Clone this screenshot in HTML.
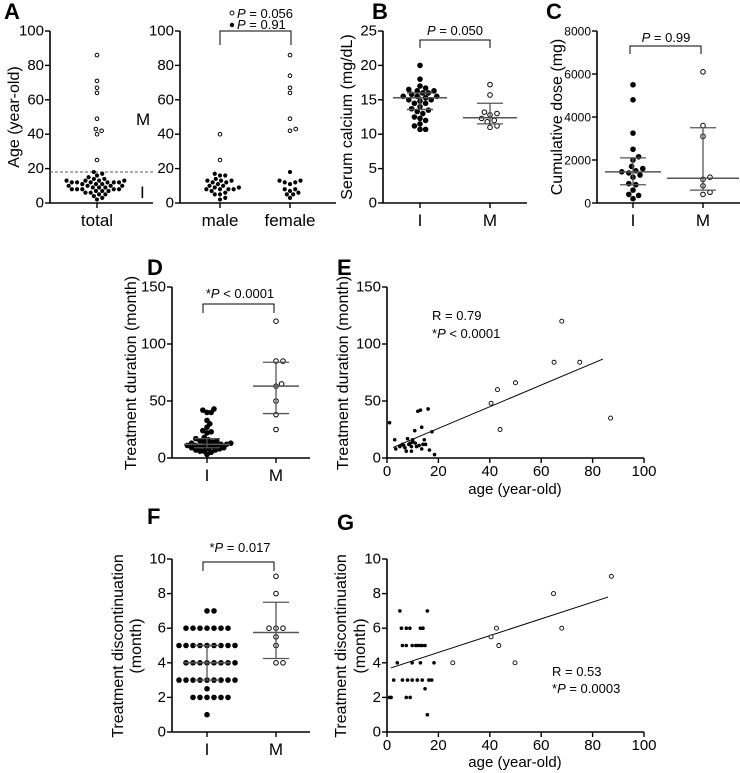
<!DOCTYPE html>
<html><head><meta charset="utf-8">
<style>
body{margin:0;background:#fff;}
svg{display:block;font-family:"Liberation Sans",Arial,sans-serif;}
</style></head>
<body>
<svg id="fig" width="740" height="773" viewBox="0 0 740 773" xmlns="http://www.w3.org/2000/svg"></svg>
<script>
// ---------- DATA ----------
const aTotalI=[18,17,16,15,14,14,13,13,13,13,12,12,12,12,12,12,11,11,11,10,10,10,10,9,9,9,8,8,8,8,8,7,7,7,6,6,5,5,4,3,2];
const aTotalM=[86,71,67,64,49,43,42,40,25];
const aMaleI=[17,16,16,14,13,13,13,12,12,11,10,10,9,9,8,8,8,8,7,6,5,5,3,2];
const aMaleM=[40,25];
const aFemaleI=[18,13,13,12,12,11,8,8,7,6,5,5,3];
const aFemaleM=[86,74,67,64,49,43,42];
const bI=[20,18,17,16.7,16.5,16.3,16.3,16,16,15.8,15.5,15.5,15.5,15.3,15,15,14.8,14.5,14.5,14,13.7,13.5,13.3,13,12.5,12.3,12,11.5,11.2,10.7,10.7];
const bM=[17.2,15.7,13.2,13,12.8,12.3,12,11.8,11.2,11];
const bStatsI=[13.6,15.3,16.0];
const bStatsM=[11.5,12.4,14.5];
const cI=[5500,4800,3250,2500,2150,2000,1700,1600,1500,1450,1400,1300,1200,900,850,600,400,350,200];
const cM=[6100,3600,3100,1200,1100,800,500,400];
const cStatsI=[850,1450,2100];
const cStatsM=[600,1150,3500];
const dI=[43,42,40,40,33,30,27,24,23,22,18,17,16,15,15,14,14,13,13,12,12,12,11,11,11,10,10,10,9,9,8,8,7,7,6,6,5,3];
const dM=[120,85,85,65,63,50,38,25];
const dStatsI=[9,12,17];
const dStatsM=[39,63,84];
const eAgeI=[1,3,3.4,5,6.5,7.5,8,9,9.5,10,10.8,11.5,12,13,13.5,13.5,14.5,15,16,16.5,17.5,18.5,8.5,9.5,11,12.5,6,7,10,14];
const eDurI=[31,16,8,10,11,6,17,13,6,16,24,10,41,42,27,8,16,12,43,7,23,3,12,10,13,11,12,9,14,12];
const eAgeM=[40.5,43,44,50,65,68,75,87];
const eDurM=[48,60,25,66,84,120,84,35];
const eFit=[0.95,7];
const fI=[7,7,6,6,6,6,6,6,6,5,5,5,5,5,5,5,5,5,4,4,4,4,4,4,4,4,3,3,3,3,3,3,3,3,3,2.5,2,2,2,2,2,2,1];
const fM=[9,8,6,6,6,5.5,5,4,4];
const fStatsI=[3,4,5];
const fStatsM=[4.25,5.75,7.5];
const gAgeI=[1,1.6,7.5,9,15.7,14.8,2.6,6,8,9.8,11.8,13.7,16.3,17.4,4,9.8,13,18.3,6,7.5,9.8,11.2,12,13,13.7,14.8,5.6,7.5,8.9,13,14,5,15.7];
const gDisI=[2,2,2,2,1,2.5,3,3,3,3,3,3,3,3,4,4,4,4,5,5,5,5,5,5,5,5,6,6,6,6,6,7,7];
const gAgeM=[25.6,40.5,42.6,43.5,49.8,64.8,68,87.3];
const gDisM=[4,5.5,6,5,4,8,6,9];
const gFit=[0.0485,3.63];

// ---------- HELPERS ----------
const NS="http://www.w3.org/2000/svg";
const svg=document.getElementById('fig');
function el(tag,attrs,parent,text){const e=document.createElementNS(NS,tag);for(const k in attrs)e.setAttribute(k,attrs[k]);if(text!==undefined)e.textContent=text;(parent||svg).appendChild(e);return e;}
function grp(name){const g=el('g',{});


return g;}
function lin(min,max,p0,p1){return v=>p0+(v-min)/(max-min)*(p1-p0);}
function yAxis(g,x,yb,yt,min,max,ticks,fs){
  const ys=lin(min,max,yb,yt);
  const a=el('line',{x1:x,y1:yb,x2:x,y2:yt,stroke:'#000','stroke-width':1.6},g);
  
  
  ticks.forEach(t=>{
    el('line',{x1:x-5,x2:x,y1:ys(t),y2:ys(t),stroke:'#000','stroke-width':1.4},g);
    const tx=el('text',{x:x-6,y:ys(t)+4.5,'text-anchor':'end','font-size':fs||14},g,t);
    
    
  });
  return ys;
}
function xAxisLine(g,x0,x1,y){const a=el('line',{x1:x0,y1:y,x2:x1,y2:y,stroke:'#000','stroke-width':1.6},g);

}
function cat(g,x,y,label,fs){el('line',{x1:x,x2:x,y1:y,y2:y+5,stroke:'#000','stroke-width':1.4},g);
const t=el('text',{x:x,y:y+23,'text-anchor':'middle','font-size':fs||17},g,label);

}
function ytitle(g,x,y,lines,fs,sp){lines.forEach((l,i)=>{const t=el('text',{x:0,y:0,'text-anchor':'middle','font-size':fs||16,transform:`translate(${x+i*(sp||18)},${y}) rotate(-90)`},g,l);

});}
function letter(x,y,s){const t=el('text',{x:x,y:y,'font-size':22,'font-weight':'bold'},svg,s);

}
function swarm(g,vals,ys,cx,r,open,name,fac){
  const f=fac||2;
  const placed=[];const sorted=vals.slice().sort((a,b)=>a-b);
  sorted.forEach(v=>{const y=ys(v);let x=cx;
    for(let k=0;k<200;k++){const off=(k%2?1:-1)*Math.ceil(k/2)*r*0.5;x=cx+off;
      if(placed.every(p=>Math.hypot(p[0]-x,p[1]-y)>=f*r+0.4))break;}
    placed.push([x,y]);
    const c=el('circle',{cx:x,cy:y,r:open?r-0.5:r,fill:open?'#fff':'#000',stroke:'#000','stroke-width':open?1:0},g);
    
    
  });
}
function stats(g,s,ys,cx,hw){
  el('line',{x1:cx,x2:cx,y1:ys(s[0]),y2:ys(s[2]),stroke:'#555','stroke-width':1.3},g);
  el('line',{x1:cx-hw,x2:cx+hw,y1:ys(s[1]),y2:ys(s[1]),stroke:'#555','stroke-width':1.5},g);
  el('line',{x1:cx-13,x2:cx+13,y1:ys(s[0]),y2:ys(s[0]),stroke:'#555','stroke-width':1.3},g);
  el('line',{x1:cx-13,x2:cx+13,y1:ys(s[2]),y2:ys(s[2]),stroke:'#555','stroke-width':1.3},g);
}
function bracket(g,x0,x1,y,drop){el('path',{d:`M${x0},${y+drop}V${y}H${x1}V${y+drop}`,fill:'none',stroke:'#000','stroke-width':1},g);}
function ptext(g,x,y,pre,post,anchor,fs){const t=el('text',{x:x,y:y,'font-size':fs||14,'text-anchor':anchor||'middle'},g);


if(pre)el('tspan',{},t,pre);el('tspan',{'font-style':'italic'},t,'P');el('tspan',{},t,'\u00a0'+post);return t;}
function scatter(g,xs,ysArr,xsc,ysc,r,open,name){xs.forEach((a,i)=>{const c=el('circle',{cx:xsc(a),cy:ysc(ysArr[i]),r:r,fill:open?'#fff':'#000',stroke:'#000','stroke-width':open?0.9:0},g);

});}

// ---------- PANEL A ----------
letter(4,19,'A');
{const g=grp('panel-a-total');
 const ys=yAxis(g,50,203,31,0,100,[0,20,40,60,80,100],15);
 xAxisLine(g,50,153,203);cat(g,97,203,'total');
 el('line',{x1:50,x2:153,y1:ys(18),y2:ys(18),stroke:'#555','stroke-width':1,'stroke-dasharray':'3,2'},g);
 swarm(g,aTotalI,ys,97,2.1,false,'dot-total-i');
 swarm(g,aTotalM,ys,97,2.3,true,'dot-total-m');
 el('text',{x:136,y:125,'font-size':17},g,'M');
 el('text',{x:140,y:198,'font-size':17},g,'I');
 ytitle(g,19,117,['Age (year-old)']);
}
{const g=grp('panel-a-sex');
 const ys=yAxis(g,180,203,31,0,100,[0,20,40,60,80,100],15);
 xAxisLine(g,180,336,203);cat(g,220,203,'male');cat(g,290,203,'female');
 swarm(g,aMaleI,ys,220,2.1,false,'dot-male-i');swarm(g,aMaleM,ys,220,2.3,true,'dot-male-m');
 swarm(g,aFemaleI,ys,290,2.1,false,'dot-female-i');swarm(g,aFemaleM,ys,290,2.3,true,'dot-female-m');
 bracket(g,220,291,31,14);
 el('circle',{cx:232,cy:13,r:2,fill:'#fff',stroke:'#000','stroke-width':0.9},g);
 ptext(g,237,18,'','= 0.056','start',13);
 el('circle',{cx:232,cy:25,r:2.2,fill:'#000'},g);
 ptext(g,237,29,'','= 0.91','start',13);
}
// ---------- PANEL B ----------
letter(372,19,'B');
{const g=grp('panel-b');
 const ys=yAxis(g,383,203,31,0,25,[0,5,10,15,20,25],15);
 xAxisLine(g,383,527,203);cat(g,420,203,'I');cat(g,490,203,'M');
 swarm(g,bI,ys,420,2.8,false,'dot-b-i',1.8);swarm(g,bM,ys,490,2.8,true,'dot-b-m');
 stats(g,bStatsI,ys,420,27);stats(g,bStatsM,ys,490,27);
 bracket(g,420,490,40,8);ptext(g,455,35,'','= 0.050','middle',13);
 ytitle(g,352,117,['Serum calcium (mg/dL)']);
}
// ---------- PANEL C ----------
letter(546,19,'C');
{const g=grp('panel-c');
 const ys=yAxis(g,597,203,31,0,8000,[0,2000,4000,6000,8000],12);
 xAxisLine(g,597,740,203);cat(g,633,203,'I');cat(g,703,203,'M');
 swarm(g,cI,ys,633,2.8,false,'dot-c-i');swarm(g,cM,ys,703,2.8,true,'dot-c-m');
 stats(g,cStatsI,ys,633,28);stats(g,cStatsM,ys,703,36);
 bracket(g,630,701,46,8);ptext(g,666,42,'','= 0.99','middle',13);
 ytitle(g,562,117,['Cumulative dose (mg)']);
}
// ---------- PANEL D ----------
letter(147,275,'D');
{const g=grp('panel-d');
 const ys=yAxis(g,172,458,287,0,150,[0,50,100,150],15);
 xAxisLine(g,172,310,458);cat(g,207,458,'I');cat(g,276,458,'M');
 swarm(g,dI,ys,207,2.8,false,'dot-d-i',1.2);swarm(g,dM,ys,276,2.8,true,'dot-d-m');
 stats(g,dStatsI,ys,207,23);stats(g,dStatsM,ys,276,23);
 bracket(g,203,274,304,9);ptext(g,240,298,'*','< 0.0001','middle',13);
 ytitle(g,136,373,['Treatment duration (month)']);
}
// ---------- PANEL E ----------
letter(337,275,'E');
{const g=grp('panel-e');
 const ys=yAxis(g,387,458,287,0,150,[0,50,100,150],15);
 const xs=lin(0,100,387,644);
 xAxisLine(g,387,644,458);
 [0,20,40,60,80,100].forEach(t=>{el('line',{x1:xs(t),x2:xs(t),y1:458,y2:463,stroke:'#000','stroke-width':1.4},g);el('text',{x:xs(t),y:476,'text-anchor':'middle','font-size':15},g,t);});
 const xt=el('text',{x:515,y:494,'text-anchor':'middle','font-size':15},g,'age (year-old)');
 
 
 const fl=el('line',{x1:xs(2.4),y1:ys(eFit[0]*2.4+eFit[1]),x2:xs(84),y2:ys(eFit[0]*84+eFit[1]),stroke:'#000','stroke-width':1},g);
 
 
 scatter(g,eAgeI,eDurI,xs,ys,1.8,false,'point-e-i');scatter(g,eAgeM,eDurM,xs,ys,2,true,'point-e-m');
 el('text',{x:432,y:320,'font-size':13},g,'R = 0.79');
 ptext(g,432,338,'*','< 0.0001','start',13);
 ytitle(g,348,373,['Treatment duration (month)']);
}
// ---------- PANEL F ----------
letter(147,524,'F');
{const g=grp('panel-f');
 const ys=yAxis(g,172,732,559,0,10,[0,2,4,6,8,10],15);
 xAxisLine(g,172,310,732);cat(g,207,732,'I');cat(g,276,732,'M');
 swarm(g,fI,ys,207,2.8,false,'dot-f-i');swarm(g,fM,ys,276,2.8,true,'dot-f-m');
 stats(g,fStatsI,ys,207,23);stats(g,fStatsM,ys,276,23);
 bracket(g,203,274,562,9);ptext(g,240,552,'*','= 0.017','middle',13);
 ytitle(g,123,646,['Treatment discontinuation','(month)']);
}
// ---------- PANEL G ----------
letter(337,530,'G');
{const g=grp('panel-g');
 const ys=yAxis(g,387,732,559,0,10,[0,2,4,6,8,10],15);
 const xs=lin(0,100,387,644);
 xAxisLine(g,387,644,732);
 [0,20,40,60,80,100].forEach(t=>{el('line',{x1:xs(t),x2:xs(t),y1:732,y2:737,stroke:'#000','stroke-width':1.4},g);el('text',{x:xs(t),y:750,'text-anchor':'middle','font-size':15},g,t);});
 const xt=el('text',{x:515,y:767,'text-anchor':'middle','font-size':15},g,'age (year-old)');
 
 
 const fl=el('line',{x1:xs(1.5),y1:ys(gFit[0]*1.5+gFit[1]),x2:xs(86),y2:ys(gFit[0]*86+gFit[1]),stroke:'#000','stroke-width':1},g);
 
 
 scatter(g,gAgeI,gDisI,xs,ys,1.8,false,'point-g-i');scatter(g,gAgeM,gDisM,xs,ys,2,true,'point-g-m');
 el('text',{x:552,y:676,'font-size':13},g,'R = 0.53');
 ptext(g,552,693,'*','= 0.0003','start',13);
 ytitle(g,346,646,['Treatment discontinuation','(month)'],16,19);
}
</script>
</body></html>
